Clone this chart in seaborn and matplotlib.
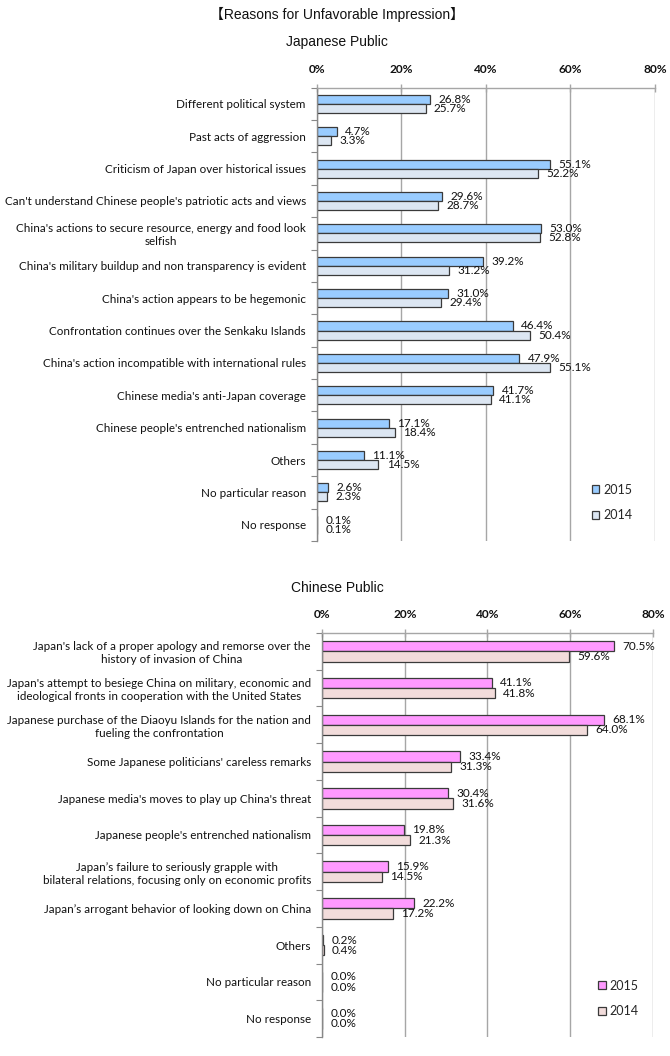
import matplotlib
matplotlib.use("Agg")
import matplotlib.pyplot as plt
import seaborn as sns
import pandas as pd
from matplotlib.ticker import FixedLocator, PercentFormatter

jp_categories = [
    "Different political system",
    "Past acts of aggression",
    "Criticism of Japan over historical issues",
    "Can't understand Chinese people's patriotic acts and views",
    "China's actions to secure resource, energy and food look\nselfish",
    "China's military buildup and non transparency is evident",
    "China's action appears to be hegemonic",
    "Confrontation continues over the Senkaku Islands",
    "China's action incompatible with international rules",
    "Chinese media's anti-Japan coverage",
    "Chinese people's entrenched nationalism",
    "Others",
    "No particular reason",
    "No response",
]
jp_2015 = [26.8, 4.7, 55.1, 29.6, 53.0, 39.2, 31.0, 46.4, 47.9, 41.7, 17.1, 11.1, 2.6, 0.1]
jp_2014 = [25.7, 3.3, 52.2, 28.7, 52.8, 31.2, 29.4, 50.4, 55.1, 41.1, 18.4, 14.5, 2.3, 0.1]

cn_categories = [
    "Japan's lack of a proper apology and remorse over the\nhistory of invasion of China",
    "Japan's attempt to besiege China on military, economic and\nideological fronts in cooperation with the United States",
    "Japanese purchase of the Diaoyu Islands for the nation and\nfueling the confrontation",
    "Some Japanese politicians' careless remarks",
    "Japanese media's moves to play up China's threat",
    "Japanese people's entrenched nationalism",
    "Japan\u2019s failure to seriously grapple with\nbilateral relations, focusing only on economic profits",
    "Japan\u2019s arrogant behavior of looking down on China",
    "Others",
    "No particular reason",
    "No response",
]
cn_2015 = [70.5, 41.1, 68.1, 33.4, 30.4, 19.8, 15.9, 22.2, 0.2, 0.0, 0.0]
cn_2014 = [59.6, 41.8, 64.0, 31.3, 31.6, 21.3, 14.5, 17.2, 0.4, 0.0, 0.0]

years = ["2015", "2014"]
tick_values = [0, 20, 40, 60, 80]

sns.set_theme(style="white")
plt.rcParams["font.family"] = ["Lato", "DejaVu Sans"]
TXT = "#111111"

fig = plt.figure(figsize=(6.70, 10.56), dpi=100)


def make_df(cats, v15, v14):
    rows = []
    for c, a, b in zip(cats, v15, v14):
        rows.append({"cat": c, "year": "2015", "val": a})
        rows.append({"cat": c, "year": "2014", "val": b})
    return pd.DataFrame(rows)


def draw(ax, cats, v15, v14, colors, legend_anchor):
    df = make_df(cats, v15, v14)
    sns.barplot(data=df, y="cat", x="val", hue="year", hue_order=years,
                order=cats, palette=colors, orient="h", width=0.56, saturation=1,
                edgecolor="#3a3a3a", linewidth=0.9, ax=ax, legend=True)
    n = len(cats)
    ax.set_xlim(0, 80)
    ax.set_ylim(n - 0.5, -0.5)
    ax.xaxis.tick_top()
    ax.set_xticks(tick_values)
    ax.xaxis.set_major_formatter(PercentFormatter(decimals=0))
    ax.tick_params(axis="x", length=6, width=1.0, direction="inout", color="#a6a6a6",
                   pad=6, labelsize=8.6, labelcolor=TXT)
    for lab in ax.get_xticklabels():
        lab.set_fontweight("bold")
    ax.grid(axis="x", color="#a6a6a6", linewidth=1.0)
    ax.set_axisbelow(True)
    ax.set_xlabel("")
    ax.set_ylabel("")
    ax.tick_params(axis="y", which="major", length=0, pad=8, labelsize=8.4, colors=TXT)
    for lab in ax.get_yticklabels():
        lab.set_multialignment("center")
    ax.yaxis.set_minor_locator(FixedLocator([k + 0.5 for k in range(-1, n)]))
    ax.tick_params(axis="y", which="minor", length=4, width=0.8, color="#888888", direction="out", left=True)
    for s in ["right", "bottom"]:
        ax.spines[s].set_visible(False)
    ax.spines["top"].set_color("#a6a6a6")
    ax.spines["left"].set_color("#888888")
    ax.spines["top"].set_linewidth(1.0)
    ax.spines["left"].set_linewidth(1.0)
    for cont, vals in zip(ax.containers, [v15, v14]):
        ax.bar_label(cont, labels=[f"{v:.1f}%" for v in vals], padding=6,
                     fontsize=8.5, color=TXT)
    handles, labels = ax.get_legend_handles_labels()
    ax.legend(handles, labels, loc="center left", bbox_to_anchor=legend_anchor,
              frameon=False, handlelength=0.6, handleheight=0.6,
              handletextpad=0.3, labelspacing=1.1, fontsize=9)


ax1 = fig.add_axes([0.4731, 0.4877, 0.5045, 0.4293])
draw(ax1, jp_categories, jp_2015, jp_2014, ["#99ccff", "#dce6f2"], (0.78, 0.085))

ax2 = fig.add_axes([0.4806, 0.0180, 0.4940, 0.3826])
draw(ax2, cn_categories, cn_2015, cn_2014, ["#ff99ff", "#f2dcdb"], (0.80, 0.095))

title_fonts = ["Liberation Sans", "Noto Sans CJK JP", "DejaVu Sans"]
fig.text(0.503, 1 - 14 / 1056, "\u3010Reasons for Unfavorable Impression\u3011",
         ha="center", va="center", fontsize=10, family=title_fonts, color=TXT)
fig.text(0.503, 1 - 42 / 1056, "Japanese Public",
         ha="center", va="center", fontsize=10, family=title_fonts, color=TXT)
fig.text(0.504, 1 - 588 / 1056, "Chinese Public",
         ha="center", va="center", fontsize=10, family=title_fonts, color=TXT)

fig.savefig("out.png", dpi=100)
